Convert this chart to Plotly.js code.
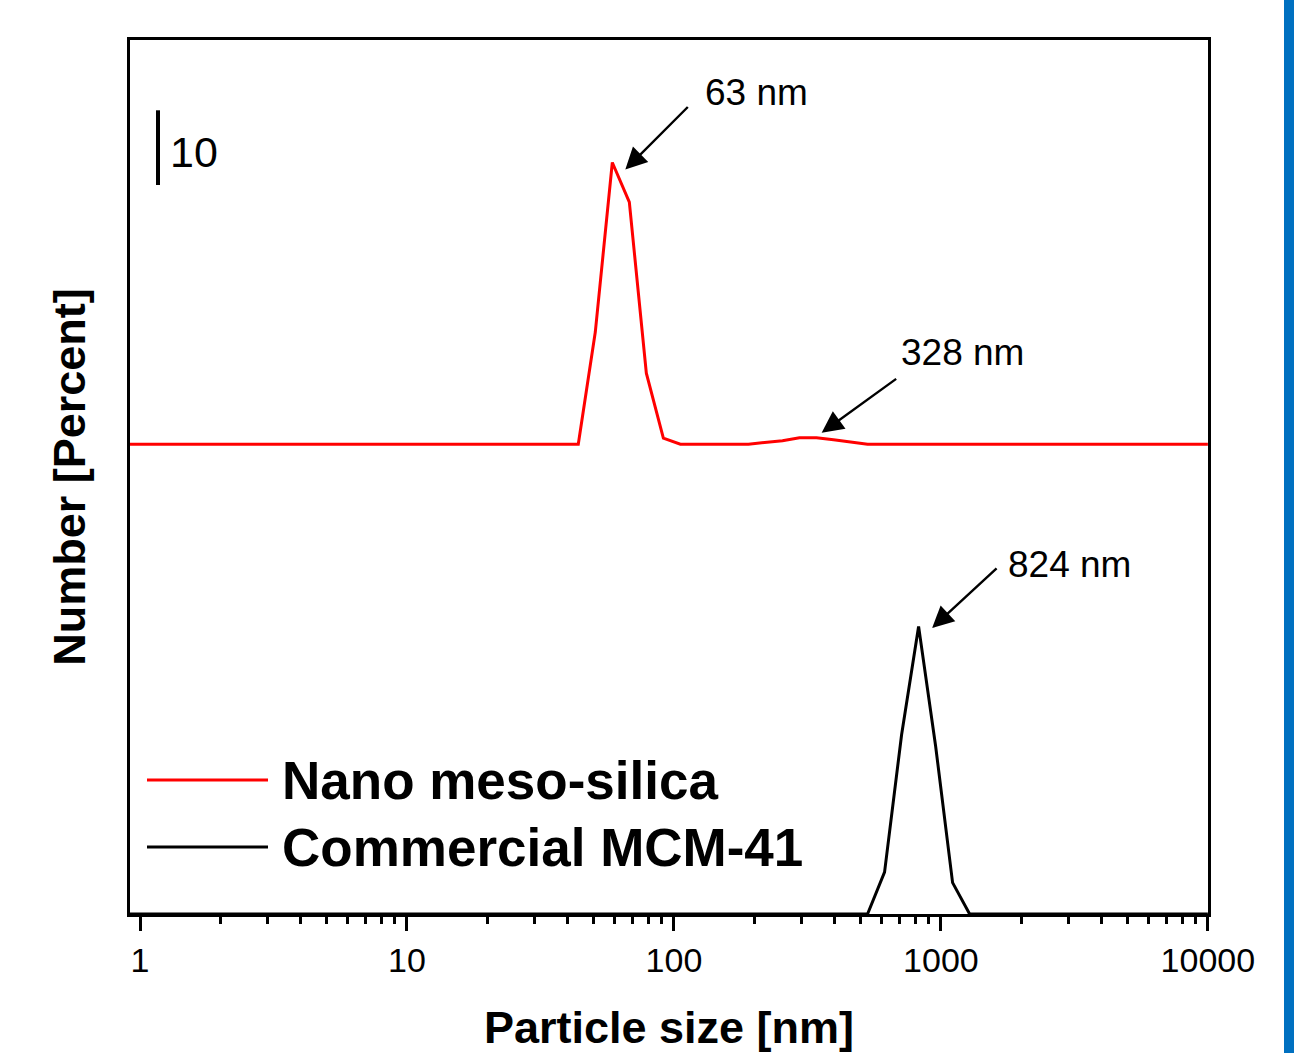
<!DOCTYPE html>
<html>
<head>
<meta charset="utf-8">
<script src="https://cdn.plot.ly/plotly-3.0.1.min.js"></script>
<style>html,body{margin:0;padding:0;background:#fff;}#chart{width:1294px;height:1053px;}</style>
</head>
<body>
<div id="chart"></div>
<script>
// ---- Data (DLS number distribution, Zetasizer size bins) ----
const nanoSizes = [0.4, 43.82, 50.75, 58.77, 68.06, 78.82, 91.28, 105.7, 190.1, 220.2, 255.0, 295.3, 342.0, 396.1, 458.7, 531.2, 10000];
const nanoNumber = [0, 0, 15.0, 37.7, 32.4, 9.5, 0.8, 0, 0, 0.2, 0.45, 0.85, 0.85, 0.6, 0.3, 0, 0];
const mcmSizes = [0.4, 531.2, 615.1, 712.4, 825.0, 955.4, 1106, 1281, 10000];
const mcmNumber = [0, 0, 5.6, 24.0, 38.5, 22.5, 4.2, 0, 0];
const nanoOffset = 62.9;          // vertical stacking offset of the red curve
const tickValues = [1, 10, 100, 1000, 10000];
const tickLabels = ["1", "10", "100", "1000", "10000"];
const peakLabels = ["63 nm", "328 nm", "824 nm"];
const scaleBarValue = 10;
const seriesNames = ["Nano meso-silica", "Commercial MCM-41"];
const seriesColors = ["#ff0000", "#000000"];

// ---- Layout helpers ----
const W = 1294, H = 1053;
const M = {l: 130, r: 86, t: 40, b: 139};
const PW = W - M.l - M.r, PH = H - M.t - M.b;
const px2x = px => (px - M.l) / PW;
const py2y = py => (H - M.b - py) / PH;
const FONT = "Liberation Sans, Arial, sans-serif";
const yTop = 117.0;
const unitPx = PH / yTop;

const nanoY = nanoNumber.map(v => v + nanoOffset);

const traces = [
  {x: nanoSizes, y: nanoY, type: 'scatter', mode: 'lines', name: seriesNames[0],
   line: {color: seriesColors[0], width: 3}, showlegend: false, hoverinfo: 'x+y'},
  {x: mcmSizes, y: mcmNumber, type: 'scatter', mode: 'lines', name: seriesNames[1],
   line: {color: seriesColors[1], width: 3}, showlegend: false, hoverinfo: 'x+y'}
];

// peak positions from data
function peakOf(xs, ys) { let i = 0; ys.forEach((v, k) => { if (v > ys[i]) i = k; }); return [xs[i], ys[i]]; }
const p63 = peakOf(nanoSizes, nanoY);
const hump = [328, nanoOffset + Math.max(...nanoNumber.slice(8))];
const p824 = peakOf(mcmSizes, mcmNumber);

const peakDefs = [
  {pt: p63, label: peakLabels[0], sx: 13, sy: -7, ax: 64, ay: -64, tx: 78, ty: -77},
  {pt: hump, label: peakLabels[1], sx: 10, sy: 5, ax: 76, ay: -55, tx: 77, ty: -80},
  {pt: p824, label: peakLabels[2], sx: 13.5, sy: -1.6, ax: 66, ay: -61, tx: 74, ty: -64}
];

const annotations = [];
peakDefs.forEach(d => {
  annotations.push({x: Math.log10(d.pt[0]), y: d.pt[1], xref: 'x', yref: 'y', text: '',
    showarrow: true, arrowhead: 2, arrowsize: 1.8, arrowwidth: 2.4, arrowcolor: '#000',
    ax: d.ax, ay: d.ay, xshift: d.sx, yshift: d.sy, standoff: 0});
  annotations.push({x: Math.log10(d.pt[0]), y: d.pt[1], xref: 'x', yref: 'y', text: d.label,
    showarrow: false, xanchor: 'left', yanchor: 'middle', xshift: d.sx + d.tx, yshift: d.sy - d.ty,
    font: {family: FONT, size: 37, color: '#000'}});
});
// scale bar label
const barBottom = (H - M.b - 185) / unitPx;
annotations.push({x: px2x(168), y: barBottom + scaleBarValue / 2, xref: 'paper', yref: 'y',
  text: String(scaleBarValue), showarrow: false, xanchor: 'left', yanchor: 'middle', yshift: -4,
  font: {family: FONT, size: 43, color: '#000'}});
// manual legend text
const legendRows = [780, 847];
seriesNames.forEach((n, i) => {
  annotations.push({x: px2x(280), y: py2y(legendRows[i]), xref: 'paper', yref: 'paper', text: '<b>' + n + '</b>',
    showarrow: false, xanchor: 'left', yanchor: 'middle', font: {family: FONT, size: 53, color: '#000'}});
});

const shapes = [
  {type: 'line', xref: 'paper', yref: 'y', x0: px2x(158), x1: px2x(158), y0: barBottom, y1: barBottom + scaleBarValue,
   line: {color: '#000', width: 4}},
  {type: 'rect', xref: 'paper', yref: 'paper', x0: px2x(1284), x1: px2x(1296), y0: py2y(1056), y1: py2y(-3),
   fillcolor: '#0070C0', line: {width: 0}}
];
seriesNames.forEach((n, i) => {
  shapes.push({type: 'line', xref: 'paper', yref: 'paper', x0: px2x(147), x1: px2x(268),
    y0: py2y(legendRows[i]), y1: py2y(legendRows[i]), line: {color: seriesColors[i], width: 3}});
});

const layout = {
  width: W, height: H,
  margin: M,
  paper_bgcolor: '#fff', plot_bgcolor: '#fff',
  showlegend: false,
  font: {family: FONT, color: '#000'},
  xaxis: {
    type: 'log', range: [-0.0375, 4.0005],
    tickmode: 'array', tickvals: tickValues, ticktext: tickLabels,
    ticks: 'outside', ticklen: 14, tickwidth: 3, tickcolor: '#000',
    minor: {dtick: 'D1', ticks: 'outside', ticklen: 7, tickwidth: 3, tickcolor: '#000', showgrid: false},
    tickfont: {family: FONT, size: 34, color: '#000'},
    showline: true, linewidth: 3, linecolor: '#000', mirror: true,
    showgrid: false, zeroline: false,
    title: {text: '<b>Particle size [nm]</b>', font: {family: FONT, size: 45, color: '#000'}, standoff: 36}
  },
  yaxis: {
    range: [0, yTop], showticklabels: false, ticks: '',
    showline: true, linewidth: 3, linecolor: '#000', mirror: true,
    showgrid: false, zeroline: false,
    title: {text: '<b>Number [Percent]</b>', font: {family: FONT, size: 45, color: '#000'}, standoff: 28}
  },
  annotations: annotations,
  shapes: shapes
};

Plotly.newPlot('chart', traces, layout, {displayModeBar: false, staticPlot: true});
</script>
</body>
</html>
